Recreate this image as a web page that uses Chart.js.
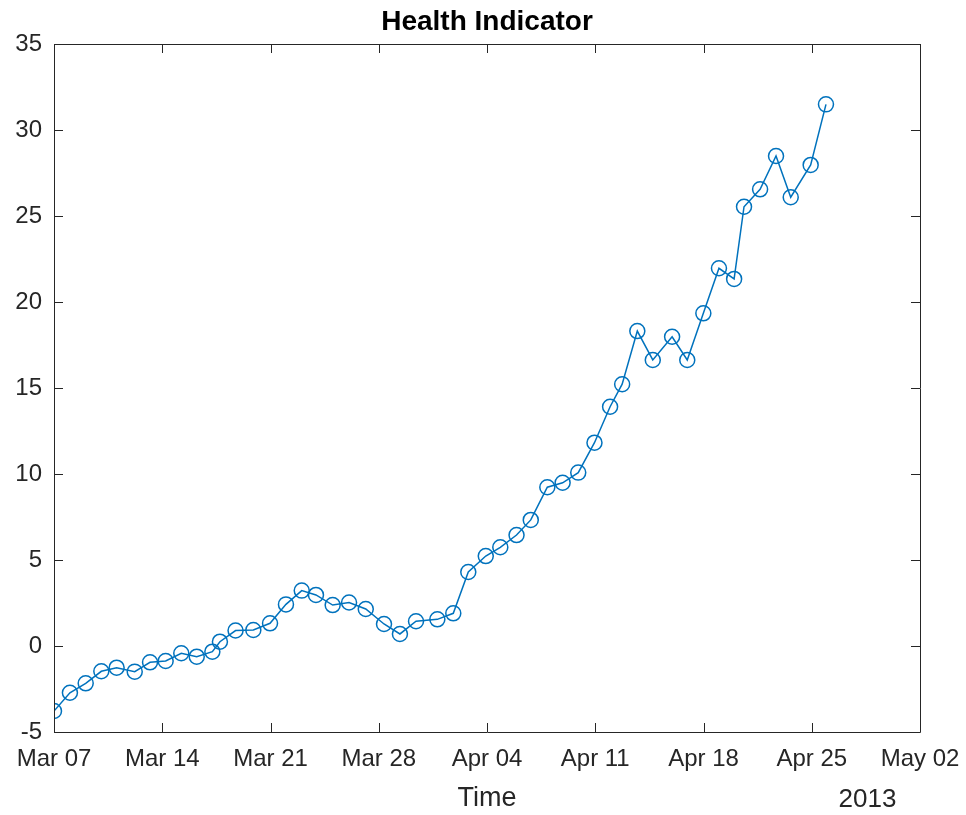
<!DOCTYPE html>
<html>
<head>
<meta charset="utf-8">
<script src="https://cdn.jsdelivr.net/npm/chart.js@4.4.1/dist/chart.umd.min.js"></script>
<style>
    body { margin: 0; background: #ffffff; }
    #healthChart { display: block; }
</style>
</head>
<body>
<canvas id="healthChart" width="966" height="815"></canvas>
<script>
// Series: days since Mar 07 2013 (fractional, samples are not on whole days)
const dayOffsets = [
    0, 1.03, 2.05, 3.06, 4.05, 5.22, 6.21, 7.22, 8.23, 9.23,
    10.24, 10.73, 11.74, 12.89, 13.97, 15.0, 16.02, 16.94, 18.02, 19.08,
    20.16, 21.34, 22.37, 23.41, 24.79, 25.82, 26.79, 27.92, 28.86, 29.91,
    30.83, 31.9, 32.89, 33.9, 34.95, 35.96, 36.74, 37.72, 38.72, 39.97,
    40.95, 41.99, 43.0, 43.98, 44.62, 45.66, 46.69, 47.64, 48.93, 49.92
];

// Health indicator value at each sample
const healthValues = [
    -3.78, -2.72, -2.17, -1.47, -1.26, -1.49, -0.95, -0.87, -0.42, -0.62,
    -0.33, 0.25, 0.90, 0.93, 1.32, 2.42, 3.22, 2.97, 2.38, 2.53,
    2.15, 1.28, 0.70, 1.44, 1.55, 1.90, 4.30, 5.23, 5.74, 6.45,
    7.33, 9.23, 9.49, 10.08, 11.82, 13.91, 15.22, 18.31, 16.63, 17.98,
    16.63, 19.34, 21.96, 21.34, 25.54, 26.55, 28.49, 26.09, 27.97, 31.49
];

// Weekly date ticks along the time axis
const tickLabels = ["Mar 07", "Mar 14", "Mar 21", "Mar 28", "Apr 04", "Apr 11", "Apr 18", "Apr 25", "May 02"];
const yearLabel = "2013";
const chartTitle = "Health Indicator";

const FONT = "'Liberation Sans', Arial, Helvetica, sans-serif";
const AXIS_COLOR = "#262626";
const LINE_COLOR = "#0072BD";

// Box around the plot with short inward ticks on all four sides,
// plus the title (centred over the plot box) and the year note
const boxAxesPlugin = {
    id: "boxAxes",
    afterDatasetsDraw(chart) {
        const ctx = chart.ctx;
        const area = chart.chartArea;
        const xs = chart.scales.x;
        const ys = chart.scales.y;
        const tickLen = 9;

        ctx.save();
        ctx.strokeStyle = AXIS_COLOR;
        ctx.lineWidth = 1;
        ctx.beginPath();
        ctx.rect(Math.round(area.left) + 0.5, Math.round(area.top) + 0.5,
            Math.round(area.right - area.left), Math.round(area.bottom - area.top));

        xs.ticks.forEach(t => {
            const px = Math.round(xs.getPixelForValue(t.value)) + 0.5;
            ctx.moveTo(px, area.bottom);
            ctx.lineTo(px, area.bottom - tickLen);
            ctx.moveTo(px, area.top);
            ctx.lineTo(px, area.top + tickLen);
        });
        ys.ticks.forEach(t => {
            const py = Math.round(ys.getPixelForValue(t.value)) + 0.5;
            ctx.moveTo(area.left, py);
            ctx.lineTo(area.left + tickLen, py);
            ctx.moveTo(area.right, py);
            ctx.lineTo(area.right - tickLen, py);
        });
        ctx.stroke();

        ctx.textAlign = "center";
        ctx.textBaseline = "middle";

        ctx.fillStyle = "#000000";
        ctx.font = "bold 28px " + FONT;
        ctx.fillText(chartTitle, (area.left + area.right) / 2, 22);

        ctx.fillStyle = AXIS_COLOR;
        ctx.font = "26px " + FONT;
        ctx.fillText(yearLabel, area.right - 52.5, 800);
        ctx.restore();
    }
};

const points = dayOffsets.map((d, i) => ({ x: d, y: healthValues[i] }));

new Chart(document.getElementById("healthChart"), {
    type: "line",
    data: {
        datasets: [{
            label: chartTitle,
            data: points,
            borderColor: LINE_COLOR,
            borderWidth: 1.5,
            backgroundColor: "rgba(0,0,0,0)",
            pointStyle: "circle",
            pointRadius: 7.5,
            pointBorderWidth: 1.5,
            pointBorderColor: LINE_COLOR,
            pointBackgroundColor: "rgba(0,0,0,0)",
            tension: 0,
            fill: false
        }]
    },
    options: {
        responsive: false,
        animation: false,
        layout: {
            padding: { left: 0, right: 46, top: 44, bottom: 0 }
        },
        scales: {
            x: {
                type: "linear",
                min: 0,
                max: 56,
                grid: { display: false, drawTicks: false },
                border: { display: false },
                ticks: {
                    stepSize: 7,
                    padding: 13,
                    color: AXIS_COLOR,
                    font: { family: FONT, size: 24 },
                    maxRotation: 0,
                    autoSkip: false,
                    callback: (value) => tickLabels[Math.round(value / 7)]
                },
                title: {
                    display: true,
                    text: "Time",
                    color: AXIS_COLOR,
                    font: { family: FONT, size: 27 },
                    padding: { top: 0, bottom: 0 }
                },
                afterFit: (scale) => {
                    scale.height = 83;
                    scale.paddingLeft = 0;
                    scale.paddingRight = 0;
                }
            },
            y: {
                min: -5,
                max: 35,
                grid: { display: false, drawTicks: false },
                border: { display: false },
                ticks: {
                    stepSize: 5,
                    padding: 12,
                    color: AXIS_COLOR,
                    font: { family: FONT, size: 24 }
                },
                afterFit: (scale) => {
                    scale.width = 54;
                    scale.paddingTop = 0;
                    scale.paddingBottom = 0;
                }
            }
        },
        plugins: {
            legend: { display: false },
            tooltip: { enabled: false },
            title: { display: false }
        }
    },
    plugins: [boxAxesPlugin]
});
</script>
</body>
</html>
